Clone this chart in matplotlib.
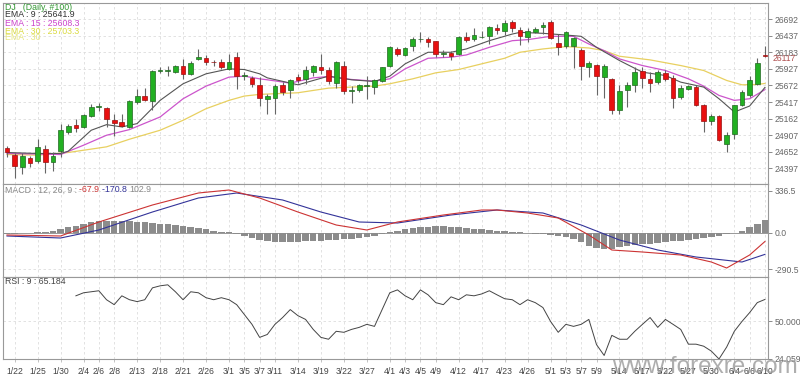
import numpy as np
import matplotlib
matplotlib.use("Agg")
import matplotlib.pyplot as plt

# ---- candles (DJ daily, 100 bars) ----
opens = [24718, 24611, 24423, 24560, 24509, 24703, 24489, 24667, 24958, 25060,
         25035, 25203, 25341, 25330, 25147, 25111, 25035, 25417, 25504, 25427,
         25891, 25900, 25886, 25968, 25851, 26080, 26090, 26031, 26029, 25927,
         26106, 25823, 25789, 25672, 25468, 25483, 25682, 25596, 25800, 25764,
         25876, 25963, 25917, 25713, 25978, 25594, 25596, 25662, 25647, 25738,
         25978, 26233, 26141, 26284, 26384, 26386, 26350, 26157, 26172, 26157,
         26411, 26386, 26420, 26437, 26554, 26503, 26651, 26524, 26411, 26488,
         26564, 26641, 26325, 26284, 26284, 26223, 25963, 25988, 25800, 25774,
         25290, 25596, 25672, 25891, 25774, 25723, 25866, 25784, 25494, 25621,
         25647, 25376, 25126, 25203, 24780, 24933, 25366, 25519, 25698, 26146]
closes = [24642, 24433, 24586, 24484, 24729, 24499, 24591, 24994, 25045, 25024,
          25213, 25341, 25351, 25152, 25101, 25050, 25427, 25504, 25453, 25891,
          25912, 25904, 25978, 25851, 26019, 26106, 26039, 26027, 25953, 26039,
          25815, 25827, 25687, 25483, 25509, 25662, 25570, 25749, 25759, 25912,
          25968, 25912, 25733, 26029, 25580, 25598, 25672, 25672, 25759, 25953,
          26258, 26151, 26248, 26386, 26388, 26335, 26157, 26172, 26131, 26411,
          26371, 26447, 26424, 26564, 26524, 26626, 26549, 26437, 26503, 26539,
          26600, 26396, 26269, 26498, 26396, 25978, 26014, 25815, 25968, 25290,
          25585, 25682, 25876, 25784, 25713, 25876, 25774, 25478, 25631, 25657,
          25376, 25126, 25203, 24831, 24907, 25366, 25570, 25759, 26014, 26117]
highs = [24744, 24627, 24627, 24591, 24856, 24754, 24642, 25086, 25086, 25152,
         25228, 25381, 25407, 25341, 25239, 25239, 25443, 25621, 25631, 25902,
         25953, 25978, 25993, 26080, 26055, 26233, 26141, 26065, 26080, 26157,
         26182, 25876, 25815, 25800, 25545, 25687, 25723, 25774, 25851, 25978,
         25988, 26157, 25953, 26055, 26044, 25662, 25698, 25825, 25774, 25963,
         26284, 26258, 26258, 26411, 26498, 26411, 26360, 26223, 26207, 26427,
         26488, 26549, 26513, 26590, 26615, 26682, 26682, 26564, 26549, 26564,
         26641, 26682, 26462, 26513, 26422, 26243, 26055, 26004, 26004, 25784,
         25682, 25723, 25953, 25963, 25876, 25902, 25902, 25835, 25672, 25682,
         25682, 25392, 25239, 25213, 24958, 25376, 25596, 25815, 26090, 26284]
lows = [24576, 24254, 24310, 24423, 24474, 24331, 24356, 24576, 24933, 24958,
        25019, 25188, 25279, 25035, 24892, 25035, 25019, 25392, 25432, 25290,
        25866, 25810, 25866, 25764, 25835, 26065, 25988, 25978, 25927, 25917,
        25621, 25749, 25647, 25356, 25228, 25239, 25519, 25478, 25708, 25687,
        25825, 25851, 25698, 25631, 25545, 25402, 25570, 25458, 25534, 25723,
        25953, 26131, 26131, 26207, 26345, 26258, 26106, 26106, 26065, 26141,
        26335, 26360, 26401, 26309, 26462, 26452, 26488, 26294, 26335, 26473,
        26462, 26386, 26141, 26243, 25937, 25759, 25800, 25519, 25478, 25228,
        25228, 25341, 25570, 25636, 25570, 25698, 25733, 25330, 25468, 25606,
        25356, 24958, 25070, 24815, 24642, 24846, 25356, 25494, 25682, 26106]

# ---- moving averages (read at sample bars) ----
ema9_idx = [0, 4, 7, 8, 11, 13, 15, 17, 20, 23, 26, 29, 31, 33, 34, 38, 42, 45, 48, 50,
            52, 55, 58, 60, 63, 66, 67, 70, 73, 75, 77, 80, 83, 86, 88, 91, 93, 95, 97, 99]
ema9_val = [24642, 24627, 24627, 24662, 24984, 25070, 25035, 25086, 25443, 25698, 25851,
            25927, 25917, 25851, 25789, 25682, 25815, 25759, 25733, 25815, 26004, 26182,
            26182, 26233, 26360, 26462, 26488, 26473, 26447, 26427, 26258, 26055, 25876,
            25825, 25723, 25647, 25468, 25264, 25356, 25642]
ema15_idx = [0, 7, 10, 13, 16, 20, 23, 26, 29, 31, 33, 34, 37, 40, 42, 45, 48, 50, 52, 55,
             58, 60, 63, 66, 68, 71, 74, 76, 78, 80, 83, 86, 89, 91, 93, 95, 97, 99]
ema15_val = [24627, 24611, 24754, 24907, 24994, 25188, 25468, 25662, 25800, 25815, 25774,
             25759, 25708, 25789, 25810, 25764, 25738, 25774, 25927, 26090, 26106, 26141,
             26258, 26360, 26376, 26427, 26427, 26309, 26207, 26080, 25978, 25902, 25774,
             25662, 25519, 25443, 25468, 25608]
ema30_idx = [0, 4, 8, 13, 16, 20, 23, 26, 29, 31, 33, 38, 42, 45, 48, 50, 53, 56, 59, 62,
             65, 67, 70, 73, 76, 78, 80, 84, 88, 91, 94, 96, 98, 99]
ema30_val = [24611, 24601, 24642, 24729, 24846, 24984, 25137, 25315, 25443, 25509, 25535,
             25560, 25631, 25647, 25662, 25698, 25774, 25866, 25917, 26004, 26090, 26182,
             26233, 26269, 26248, 26207, 26121, 26065, 25978, 25902, 25749, 25682, 25687,
             25703]

# ---- MACD (12, 26, 9) ----
macd_idx = [0, 7, 12, 19, 25, 29, 33, 38, 43, 47, 51, 57, 62, 64, 68, 72, 76, 79, 83, 88,
            92, 94, 97, 99]
macd_val = [-16, -24, 88, 224, 320, 344, 280, 168, 64, 24, 88, 144, 184, 184, 160, 120,
            -16, -136, -152, -176, -232, -280, -176, -68]
signal_idx = [0, 7, 12, 19, 25, 30, 36, 41, 46, 51, 58, 64, 70, 75, 80, 85, 90, 96, 99]
signal_val = [-24, -40, 24, 168, 280, 320, 264, 168, 88, 80, 144, 184, 160, 64, -56, -136,
              -192, -232, -171]
hist = [-5, -4, -3, 0, 5, 10, 20,
        30, 45, 60, 75, 85, 95, 100, 100, 98, 95, 90, 85, 80, 75,
        70, 65, 55, 45, 40, 30, 20, 10, 5,
        -10, -25, -40, -55, -65, -70, -72, -70, -68, -65, -62, -60, -58, -55, -50, -45, -40, -30, -20,
        -5, 10, 20, 30, 40, 45, 50, 55, 55, 50, 45, 40, 35, 30, 25, 20, 15, 10,
        5, 0, -5, -10, -15, -20, -30, -45, -70,
        -100, -120, -130, -125, -115, -105, -95, -90, -85, -80, -70, -65, -60, -55, -50, -40,
        -30, -20, -10, 0,
        20, 45, 75, 103]

# ---- RSI (9), starts at bar 9 ----
rsi = [67.7, 69.8, 70.5, 71.2, 65.0, 61.6, 67.7, 65.0, 63.7, 65.0,
       73.2, 74.6, 75.3, 70.5, 65.0, 70.5, 69.8, 66.4, 65.0, 66.4,
       65.0, 61.6, 54.8, 48.0, 39.0, 41.0, 48.0, 52.7, 58.2, 54.0,
       51.4, 44.5, 39.0, 37.7, 43.2, 42.5, 44.5, 45.9, 48.0, 46.6,
       58.2, 69.8, 71.8, 67.7, 65.0, 71.8, 68.4, 63.0, 61.6, 67.0,
       65.0, 68.4, 67.7, 69.0, 71.2, 68.4, 65.7, 65.0, 61.6, 65.0,
       63.0, 59.6, 50.0, 42.5, 48.0, 46.6, 48.0, 51.4, 34.0, 26.5,
       40.4, 37.7, 37.7, 43.2, 48.0, 52.7, 45.9, 51.4, 48.0, 44.5,
       34.3, 34.3, 32.9, 29.5, 24.06, 32.3, 43.2, 50.0, 56.1, 63.0, 65.2]

date_idx = [1, 4, 7, 10, 12, 14, 17, 20, 23, 26, 29, 31, 33, 35, 38, 41, 44, 47, 50,
            52, 54, 56, 59, 62, 65, 68, 71, 73, 75, 77, 80, 83, 86, 89, 92, 95, 97, 99]
date_lbl = ['1/22', '1/25', '1/30', '2/4', '2/6', '2/8', '2/13', '2/18', '2/21', '2/26',
            '3/1', '3/5', '3/7', '3/11', '3/14', '3/19', '3/22', '3/27', '4/1', '4/3',
            '4/5', '4/9', '4/12', '4/17', '4/23', '4/26', '5/1', '5/3', '5/7', '5/9',
            '5/14', '5/17', '5/22', '5/27', '5/30', '6/4', '6/6', '6/10']

price_ticks = [26692, 26437, 26183, 25927, 25672, 25417, 25162, 24907, 24652, 24397]

plt.rcParams['font.family'] = ['Liberation Sans Narrow', 'Liberation Sans', 'DejaVu Sans']
W, H = 800, 378
fig = plt.figure(figsize=(8, 3.78), dpi=100)

def box(top, bottom):
    return [3 / W, 1 - bottom / H, 765 / W, (bottom - top) / H]

ax1 = fig.add_axes(box(3, 184))
ax2 = fig.add_axes(box(184, 277))
ax3 = fig.add_axes(box(277, 359))

grid_kw = dict(color='#dddddd', lw=0.6, ls=(0, (3, 3)))
for ax in (ax1, ax2, ax3):
    ax.set_xlim(-0.52, 99.4)
    for s in ax.spines.values():
        s.set_color('#999999')
        s.set_linewidth(0.8)
    ax.yaxis.tick_right()
    ax.tick_params(axis='y', labelsize=6.2, colors='#777777', length=3, width=0.6,
                   pad=1.5, labelcolor='#666666')
    ax.set_xticks(date_idx)
    ax.tick_params(axis='x', length=2, width=0.5, colors='#aaaaaa')
    ax.set_xticklabels([])
    for d in date_idx:
        ax.axvline(d, zorder=0, **grid_kw)

# main panel
x = np.arange(len(opens))
ax1.set_ylim(24158, 26939)
ax1.set_yticks(price_ticks)
ax1.set_yticklabels([str(p) for p in price_ticks])
for p in price_ticks:
    ax1.axhline(p, zorder=0, **grid_kw)
o = np.array(opens); c = np.array(closes)
up = c >= o
ax1.vlines(x, lows, highs, color='#666666', lw=0.8, zorder=2)
ax1.bar(x[up], (c - o)[up], bottom=o[up], width=0.62, color='#22b022',
        edgecolor='#226622', lw=0.5, zorder=3)
ax1.bar(x[~up], (c - o)[~up], bottom=o[~up], width=0.62, color='#e81010',
        edgecolor='#991111', lw=0.5, zorder=3)
ax1.plot(ema30_idx, ema30_val, color='#e8d060', lw=0.9, zorder=1)
ax1.plot(ema15_idx, ema15_val, color='#cc55cc', lw=0.9, zorder=1)
ax1.plot(ema9_idx, ema9_val, color='#555555', lw=0.8, zorder=1)
ax1.text(1.006, 26090, '26117', transform=ax1.get_yaxis_transform(), fontsize=6.2,
         color='#b05050', va='center')

# MACD panel
ax2.set_ylim(-352, 392)
ax2.set_yticks([336.5, 0.0, -290.5])
ax2.set_yticklabels(['336.5', '0.0', '-290.5'])
ax2.axhline(336.5, zorder=0, **grid_kw)
ax2.axhline(-290.5, zorder=0, **grid_kw)
ax2.axhline(0, color='#888888', lw=0.6, zorder=1)
ax2.bar(x, hist, width=0.85, color='#8c8c8c', zorder=2)
ax2.plot(signal_idx, signal_val, color='#333399', lw=0.8, zorder=3)
ax2.plot(macd_idx, macd_val, color='#cc3333', lw=0.8, zorder=3)

# RSI panel
ax3.set_ylim(24.059, 80.7)
ax3.set_yticks([50.0, 24.059])
ax3.set_yticklabels(['50.000', '24.059'])
ax3.axhline(50, zorder=0, **grid_kw)
ax3.plot(np.arange(9, 9 + len(rsi)), rsi, color='#444444', lw=0.7)
ax3.set_xticklabels(date_lbl, fontsize=6.2, color='#444444')
ax3.tick_params(axis='x', pad=4, labelcolor='#444444')

# legends
def ft(px, py, s, col, **kw):
    return fig.text(px / W, 1 - py / H, s, color=col, fontsize=6.3, va='center', **kw)

ft(5, 7, 'DJ   (Daily, #100)', '#339933')
ft(5, 14.5, 'EMA : 9 : 25641.9', '#333333')
ft(5, 23, 'EMA : 15 : 25608.3', '#cc44cc')
ft(5, 31, 'EMA : 30 : 25703.3', '#dada40')
ft(5, 37, 'EMA : 30', '#e6e680')

t = ft(5, 190, 'MACD : 12, 26, 9 : ', '#888888')
fig.canvas.draw()
r = fig.canvas.get_renderer()
xx = t.get_window_extent(r).x1
for s, col in [('-67.9 ', '#cc3333'), ('-170.8 ', '#333399'), ('102.9', '#888888')]:
    t = ft(xx, 190, s, col)
    xx = t.get_window_extent(r).x1

ft(5, 281, 'RSI : 9 : 65.184', '#444444')

fig.text(0.997, 0.0, 'www.forexre.com', fontsize=17.5, color='#9a9a9a', alpha=0.8,
         ha='right', va='bottom', family=['Liberation Sans', 'DejaVu Sans'])

fig.savefig('out.png', dpi=100)
